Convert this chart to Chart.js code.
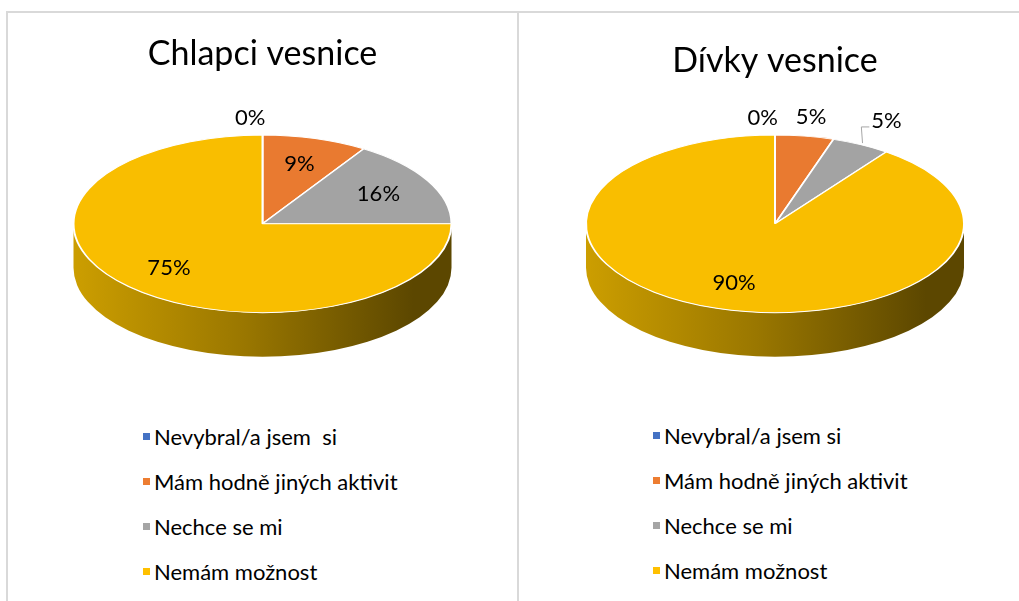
<!DOCTYPE html>
<html>
<head>
<meta charset="utf-8">
<script src="https://cdn.jsdelivr.net/npm/chart.js@4.4.1/dist/chart.umd.min.js"></script>
<style>
  body { margin: 0; background: #fff; font-family: Lato, "Open Sans", sans-serif; }
  #wrap { position: relative; width: 1019px; height: 601px; overflow: hidden; }
  .panel { position: absolute; top: 11px; height: 600px; border-top: 2px solid #d9d9d9; border-left: 2px solid #d9d9d9; }
  #p1 { left: 6px; width: 509px; }
  #p2 { left: 517px; width: 500px; }
  .panel canvas { position: absolute; left: 0; top: 0; }
  .legend { position: absolute; list-style: none; margin: 0; padding: 0; font-size: 22px; color: #000; }
  .legend li { height: 45px; display: flex; align-items: center; white-space: pre; }
  .legend .box { width: 7px; height: 7px; margin-right: 4px; flex: none; }
</style>
</head>
<body>
<div id="wrap">
  <div class="panel" id="p1">
    <canvas id="chart1" width="509" height="400"></canvas>
    <ul class="legend" id="legend1" style="left:135px; top:401px;"></ul>
  </div>
  <div class="panel" id="p2">
    <canvas id="chart2" width="500" height="400"></canvas>
    <ul class="legend" id="legend2" style="left:134px; top:400px;"></ul>
  </div>
</div>
<script>
// categories (left chart label has a double space, as in the source)
const labelsBoys = ["Nevybral/a jsem  si", "Mám hodně jiných aktivit", "Nechce se mi", "Nemám možnost"];
const labelsGirls = ["Nevybral/a jsem si", "Mám hodně jiných aktivit", "Nechce se mi", "Nemám možnost"];
// percentages
const boysVillage = [0, 9, 16, 75];
const girlsVillage = [0, 5, 5, 90];

const colors = ["#4472C4", "#ED7D31", "#A5A5A5", "#FFC000"];
const topColors = ["#4472C4", "#E97A30", "#A3A3A3", "#F9BE00"];
// side shading: [left, middle, right]
const sideColors = [
  ["#3A62A8", "#2C4A80", "#1E3358"],
  ["#C86A29", "#985020", "#6A3816"],
  ["#8C8C8C", "#6A6A6A", "#4A4A4A"],
  ["#CC9E00", "#9A7700", "#5C4700"]
];

// fake 3D: squash the pie vertically and draw a side wall under the front half
const pie3d = {
  id: "pie3d",
  beforeDatasetsDraw(chart, args, opts) {
    const ctx = chart.ctx;
    const meta = chart.getDatasetMeta(0);
    const first = meta.data[0];
    const cx = first.x, R = first.outerRadius;
    const ry = R * opts.tilt, cy = opts.top + ry, d = opts.depth;
    meta.data.forEach((arc, i) => {
      if (arc.hidden) return;
      const s = Math.max(arc.startAngle, 0), e = Math.min(arc.endAngle, Math.PI);
      if (e <= s) return;
      const g = ctx.createLinearGradient(cx - R, 0, cx + R, 0);
      g.addColorStop(0, sideColors[i][0]);
      g.addColorStop(0.45, sideColors[i][1]);
      g.addColorStop(0.9, sideColors[i][2]);
      g.addColorStop(1, sideColors[i][2]);
      ctx.save();
      ctx.beginPath();
      ctx.ellipse(cx, cy, R, ry, 0, s, e);
      ctx.ellipse(cx, cy + d, R, ry, 0, e, s, true);
      ctx.closePath();
      ctx.fillStyle = g;
      ctx.fill();
      ctx.restore();
    });
    ctx.save();
    ctx.translate(0, cy);
    ctx.scale(1, opts.tilt);
    ctx.translate(0, -first.y);
  },
  afterDatasetsDraw(chart, args, opts) {
    const ctx = chart.ctx;
    ctx.restore();
    const meta = chart.getDatasetMeta(0);
    const values = chart.data.datasets[0].data;
    const total = values.reduce((a, b) => a + b, 0);
    const R = meta.data[0].outerRadius;
    const ry = R * opts.tilt, cy = opts.top + ry;
    ctx.save();
    ctx.font = "22px Lato, 'Open Sans', sans-serif";
    ctx.fillStyle = "#000";
    ctx.textBaseline = "middle";
    meta.data.forEach((arc, i) => {
      const v = values[i];
      const mid = (arc.startAngle + arc.endAngle) / 2;
      const outside = v / total < 0.07;
      const leader = opts.leaders.includes(i);
      const f = outside ? (leader ? 1.3 : 1.22) : 0.7;
      const px = arc.x + f * R * Math.cos(mid);
      const py = cy + f * ry * Math.sin(mid);
      const txt = Math.round(v / total * 100) + "%";
      if (v === 0) {
        ctx.textAlign = "right";
        ctx.fillText(txt, px + 3, py + 2);
        return;
      }
      ctx.textAlign = "center";
      ctx.fillText(txt, px, py);
      if (leader) {
        const w = ctx.measureText(txt).width;
        const ex = arc.x + 1.02 * R * Math.cos(mid), ey = cy + 1.02 * ry * Math.sin(mid);
        ctx.beginPath();
        ctx.moveTo(ex, ey);
        ctx.lineTo(px - w / 2 - 10, py + 6);
        ctx.lineTo(px - w / 2 - 2, py + 6);
        ctx.strokeStyle = "#A6A6A6";
        ctx.lineWidth = 1;
        ctx.stroke();
      }
    });
    ctx.restore();
  }
};

function makePie(id, legendId, title, labels, values, titleTop, padLeft, leaders) {
  new Chart(document.getElementById(id), {
    type: "pie",
    data: {
      labels: labels,
      datasets: [{
        data: values,
        backgroundColor: topColors,
        borderColor: "#fff",
        borderWidth: 2,
        radius: 189,
        clip: false
      }]
    },
    options: {
      responsive: false,
      animation: false,
      events: [],
      layout: { padding: { left: padLeft } },
      plugins: {
        legend: { display: false },
        tooltip: { enabled: false },
        title: {
          display: true,
          text: title,
          color: "#000",
          font: { family: "Lato, 'Open Sans', sans-serif", size: 34, weight: "normal", lineHeight: 1.2 },
          padding: { top: titleTop, bottom: 20 }
        },
        pie3d: { tilt: 0.47, depth: 44, top: 122, leaders: leaders }
      }
    },
    plugins: [pie3d]
  });
  const ul = document.getElementById(legendId);
  labels.forEach((l, i) => {
    const li = document.createElement("li");
    li.innerHTML = '<span class="box" style="background:' + colors[i] + '"></span>';
    li.appendChild(document.createTextNode(l));
    ul.appendChild(li);
  });
}

makePie("chart1", "legend1", "Chlapci vesnice", labelsBoys, boysVillage, 21, 0, []);
makePie("chart2", "legend2", "Dívky vesnice", labelsGirls, girlsVillage, 28, 12, [2]);
</script>
</body>
</html>
